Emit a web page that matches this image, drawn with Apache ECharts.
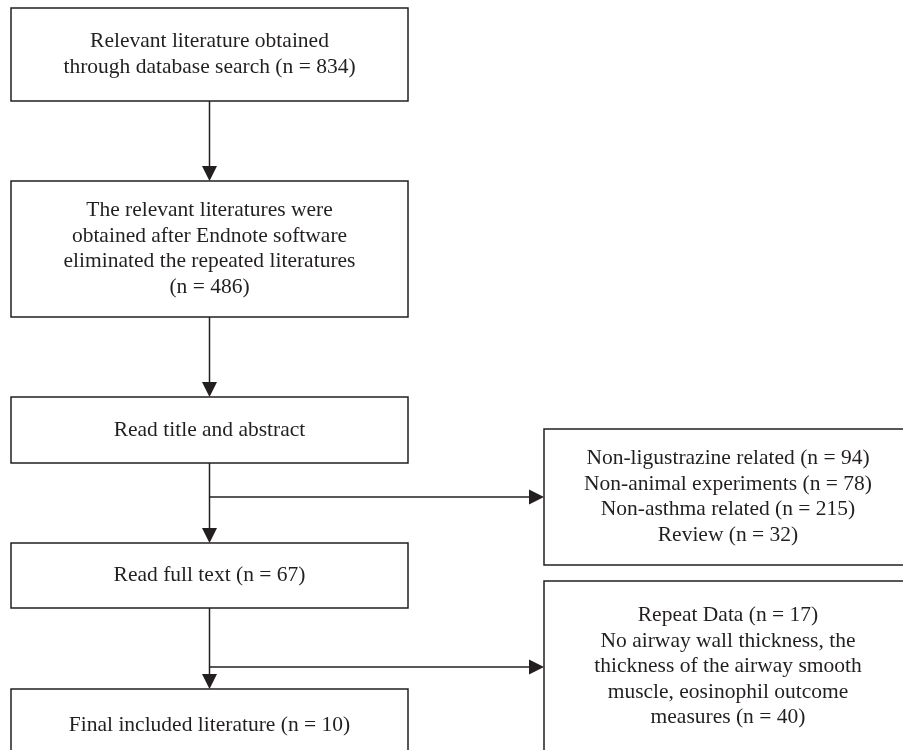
<!DOCTYPE html>
<html>
<head>
<meta charset="utf-8">
<script src="https://cdn.jsdelivr.net/npm/echarts@6/dist/echarts.min.js"></script>
<style>html,body{margin:0;padding:0;background:#fff;}#main{width:903px;height:750px;}</style>
</head>
<body>
<div id="main"></div>
<script>
// ---- content (values) ----
var stepTexts = [
  'Relevant literature obtained\nthrough database search',
  'The relevant literatures were\nobtained after Endnote software\neliminated the repeated literatures\n',
  'Read title and abstract',
  'Read full text',
  'Final included literature'
];
var stepCounts = [834, 486, null, 67, 10];

var exclusion1Labels = ['Non-ligustrazine related', 'Non-animal experiments', 'Non-asthma related', 'Review'];
var exclusion1Counts = [94, 78, 215, 32];

var exclusion2Labels = ['Repeat Data', 'No airway wall thickness, the\nthickness of the airway smooth\nmuscle, eosinophil outcome\nmeasures'];
var exclusion2Counts = [17, 40];

// ---- layout (pixel-space coordinates on hidden axes) ----
var stepBoxes = [
  [11, 8, 408, 101],
  [11, 181, 408, 317],
  [11, 397, 408, 463],
  [11, 543, 408, 608],
  [11, 689, 408, 762]
];
var exclBoxes = [
  [544, 429, 912, 565],
  [544, 581, 912, 752]
];
var spineX = 209.5;
var branchY = [497, 667];

function stepLabel(i) {
  var t = stepTexts[i];
  var c = stepCounts[i];
  if (c == null) return t;
  if (t.charAt(t.length - 1) === '\n') return t + '(n = ' + c + ')';
  return t + ' (n = ' + c + ')';
}
function exclLabel(labels, counts) {
  return labels.map(function (l, i) { return l + ' (n = ' + counts[i] + ')'; }).join('\n');
}

var boxData = [];
stepBoxes.forEach(function (b, i) { boxData.push(b.concat([stepLabel(i)])); });
boxData.push(exclBoxes[0].concat([exclLabel(exclusion1Labels, exclusion1Counts)]));
boxData.push(exclBoxes[1].concat([exclLabel(exclusion2Labels, exclusion2Counts)]));

// connectors: [x0,y0,x1,y1,arrow]
var connData = [];
for (var i = 0; i < stepBoxes.length - 1; i++) {
  connData.push([spineX, stepBoxes[i][3], spineX, stepBoxes[i + 1][1], 1]);
}
connData.push([spineX, branchY[0], exclBoxes[0][0], branchY[0], 1]);
connData.push([spineX, branchY[1], exclBoxes[1][0], branchY[1], 1]);

var INK = '#231f20';
var FONT = '"Liberation Serif", "Times New Roman", serif';
var FS = 21.5;

var chart = echarts.init(document.getElementById('main'), null, {renderer: 'canvas'});
chart.setOption({
  animation: false,
  backgroundColor: '#ffffff',
  grid: {left: 0, right: 0, top: 0, bottom: 0},
  xAxis: {type: 'value', min: 0, max: 903, show: false},
  yAxis: {type: 'value', min: 0, max: 750, inverse: true, show: false},
  series: [
    {
      type: 'custom',
      coordinateSystem: 'cartesian2d',
      data: boxData,
      clip: false,
      renderItem: function (params, api) {
        var p0 = api.coord([api.value(0), api.value(1)]);
        var p1 = api.coord([api.value(2), api.value(3)]);
        var txt = boxData[params.dataIndex][4];
        return {
          type: 'group',
          children: [
            {
              type: 'rect',
              shape: {x: p0[0], y: p0[1], width: p1[0] - p0[0], height: p1[1] - p0[1]},
              style: {fill: '#ffffff', stroke: INK, lineWidth: 1.5}
            },
            {
              type: 'text',
              x: (p0[0] + p1[0]) / 2,
              y: (p0[1] + p1[1]) / 2,
              style: {
                text: txt,
                fill: INK,
                font: FS + 'px ' + FONT,
                fontSize: FS,
                fontFamily: FONT,
                lineHeight: 25.6,
                align: 'center',
                verticalAlign: 'middle'
              }
            }
          ]
        };
      }
    },
    {
      type: 'custom',
      coordinateSystem: 'cartesian2d',
      data: connData,
      clip: false,
      renderItem: function (params, api) {
        var a = api.coord([api.value(0), api.value(1)]);
        var b = api.coord([api.value(2), api.value(3)]);
        var dx = b[0] - a[0], dy = b[1] - a[1];
        var len = Math.sqrt(dx * dx + dy * dy);
        var ux = dx / len, uy = dy / len;
        var hl = 15, hw = 7.5;
        var base = [b[0] - ux * hl, b[1] - uy * hl];
        var children = [{
          type: 'line',
          shape: {x1: a[0], y1: a[1], x2: base[0], y2: base[1]},
          style: {stroke: INK, lineWidth: 1.5}
        }];
        if (api.value(4)) {
          children.push({
            type: 'polygon',
            shape: {points: [
              [b[0], b[1]],
              [base[0] - uy * hw, base[1] + ux * hw],
              [base[0] + uy * hw, base[1] - ux * hw]
            ]},
            style: {fill: INK}
          });
        }
        return {type: 'group', children: children};
      }
    }
  ]
});
</script>
</body>
</html>
